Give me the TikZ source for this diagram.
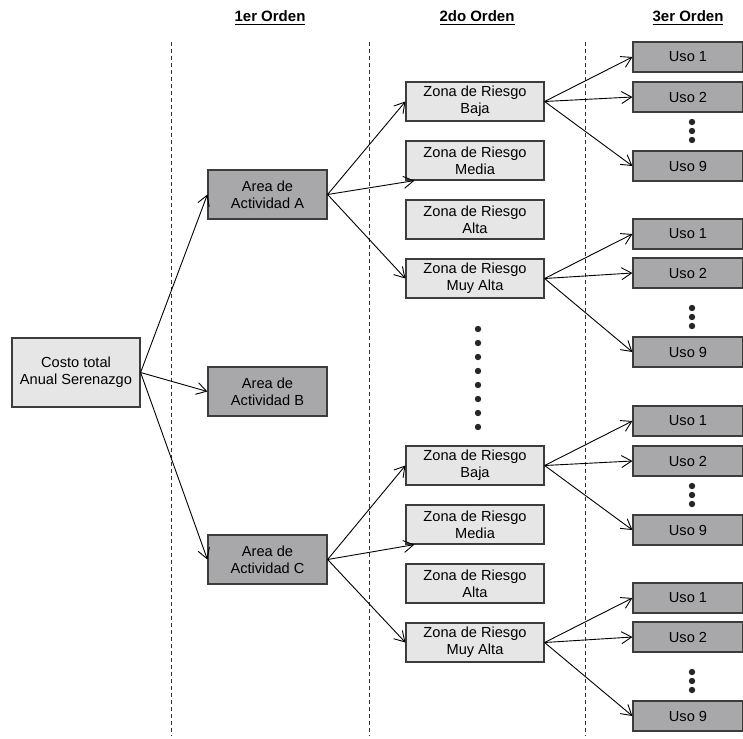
\documentclass[tikz,border=0pt]{standalone}
\usepackage{fontspec}
\setmainfont{Liberation Sans}
\usepackage{xcolor}
\usepackage{tikz}
\usetikzlibrary{arrows.meta}
\definecolor{cajaclara}{RGB}{230,230,230}
\definecolor{cajaoscura}{RGB}{168,168,170}
\definecolor{borde}{RGB}{60,60,60}

\begin{document}
\begin{tikzpicture}[x=0.5pt,y=-0.5pt,
    font=\fontsize{7.3}{8.6}\selectfont,
    clara/.style={draw=borde, fill=cajaclara, line width=0.6pt, align=center, inner sep=0pt},
    oscura/.style={draw=borde, fill=cajaoscura, line width=0.6pt, align=center, inner sep=0pt},
    zona/.style={clara, minimum width=69pt, minimum height=19.5pt},
    area/.style={oscura, minimum width=59.5pt, minimum height=24.5pt},
    uso/.style={oscura, minimum width=55pt, minimum height=15pt},
    flecha/.style={-{Straight Barb[length=5pt,width=6pt]}, line width=0.45pt},
    punto/.style={fill=black!85},
    divisor/.style={dash pattern=on 2pt off 1.5pt, line width=0.5pt, black!80},
    titulo/.style={font=\fontsize{7.5}{9}\selectfont\bfseries}]
    \useasboundingbox (0,0) rectangle (743,738);

    % encabezados y divisiones
    \node[titulo] (orden1) at (270,18) {\underline{1er Orden}};
    \node[titulo] (orden2) at (477,18) {\underline{2do Orden}};
    \node[titulo] (orden3) at (688,18) {\underline{3er Orden}};
    \foreach \x in {171,369,585}
        \draw[divisor] (\x,42) -- (\x,736);

    % raiz y areas
    \node[clara, minimum width=64pt, minimum height=34.5pt] (costo) at (76,372.5) {Costo total\\Anual Serenazgo};
    \node[area] (areaA) at (267.5,194.5) {Area de\\Actividad A};
    \node[area] (areaB) at (267.5,391.5) {Area de\\Actividad B};
    \node[area] (areaC) at (267.5,559.5) {Area de\\Actividad C};
    \foreach \g in {A,B,C}
        \draw[flecha] (costo.east) -- (area\g.west);

    % zonas de riesgo y usos
    \foreach \g/\dy in {A/0,C/364} {
        \node[zona] (zb\g) at (475,101.5+\dy) {Zona de Riesgo\\Baja};
        \node[zona] (zm\g) at (475,160.5+\dy) {Zona de Riesgo\\Media};
        \node[zona] (za\g) at (475,219.5+\dy) {Zona de Riesgo\\Alta};
        \node[zona] (zx\g) at (475,278.5+\dy) {Zona de Riesgo\\Muy Alta};
        \draw[flecha] (area\g.east) -- (zb\g.west);
        \draw[flecha] (area\g.east) -- ([xshift=4.5pt]zm\g.south west);
        \draw[flecha] (area\g.east) -- (zx\g.west);
        \foreach \z/\ya/\yb/\yc/\yp in {zb/57/97/166/131, zx/234/273/352/317} {
            \node[uso] (\z\g1) at (688,\ya+\dy) {Uso 1};
            \node[uso] (\z\g2) at (688,\yb+\dy) {Uso 2};
            \node[uso] (\z\g9) at (688,\yc+\dy) {Uso 9};
            \foreach \k in {-9,0,9}
                \fill[punto] (692,\yp+\dy+\k) circle (1.6pt);
            \foreach \u in {1,2,9}
                \draw[flecha] (\z\g.east) -- (\z\g\u.west);
        }
    }

    % puntos suspensivos
    \foreach \y in {329,343,...,427}
        \fill[punto] (478,\y) circle (1.6pt);
\end{tikzpicture}
\end{document}
